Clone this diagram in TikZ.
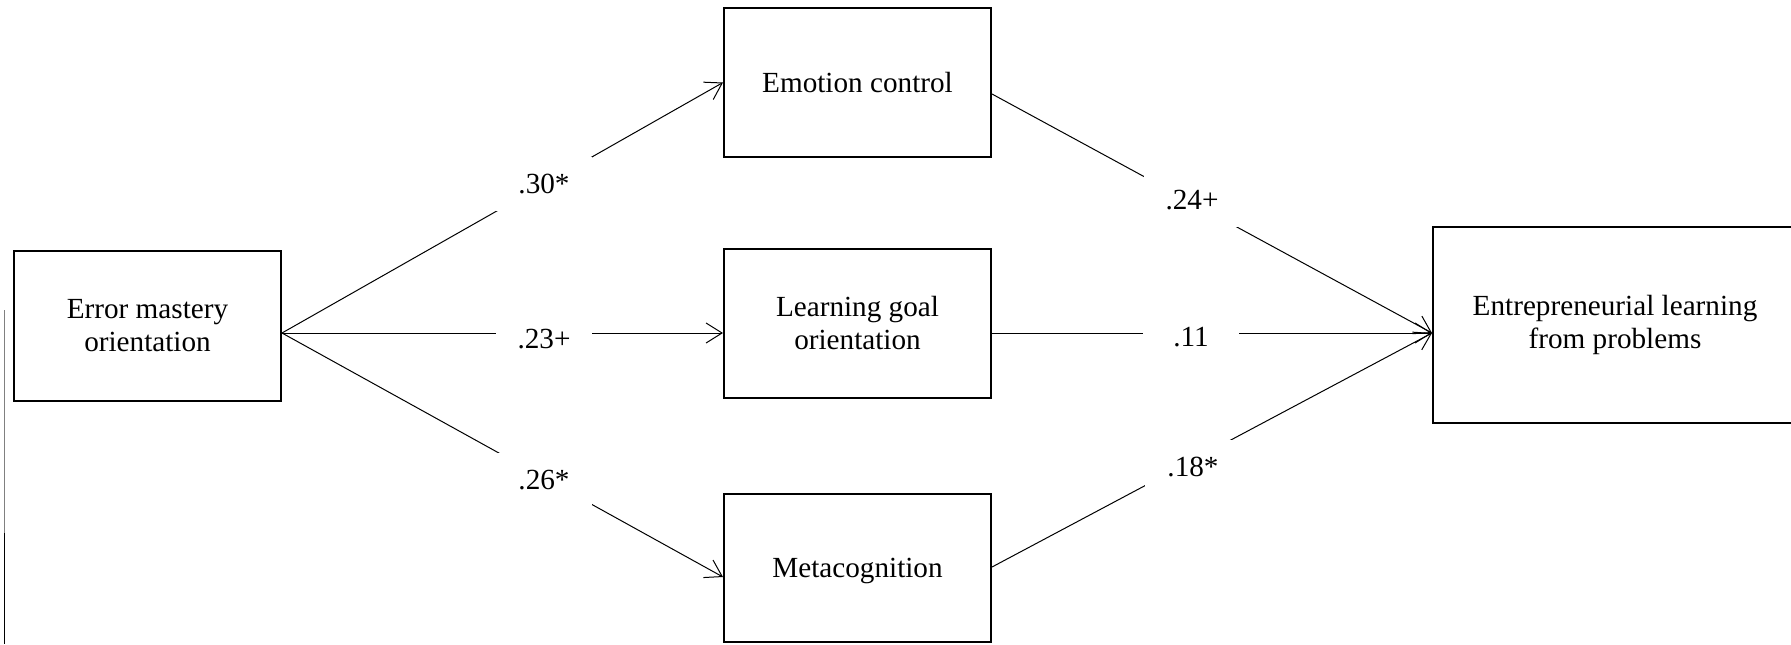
\documentclass[tikz,border=0pt]{standalone}
\usepackage{fontspec}
\setmainfont{Liberation Serif}
\usetikzlibrary{arrows.meta}
\begin{document}
\begin{tikzpicture}[x=0.5pt,y=-0.5pt,
  box/.style={draw, line width=1pt, align=center, inner sep=0pt, font=\fontsize{14.6}{16.5}\selectfont},
  conn/.style={line width=0.5pt, -{Straight Barb[length=8pt,width=10pt]}},
  lab/.style={fill=white, inner sep=0pt, minimum width=48pt, minimum height=27pt, font=\fontsize{14.6}{16.5}\selectfont}]
\useasboundingbox (0,0) rectangle (1791,644);
% boxes
\node[box, minimum width=133.5pt, minimum height=75pt] (emo) at (147.5,326) {Error mastery\\orientation};
\node[box, minimum width=133.5pt, minimum height=74.5pt] (ec) at (857.5,82.5) {Emotion control};
\node[box, minimum width=133.5pt, minimum height=74.5pt] (lg) at (857.5,323.5) {Learning goal\\orientation};
\node[box, minimum width=133.5pt, minimum height=74pt, text depth=0pt] (mc) at (857.5,568) {Metacognition};
\node[box, minimum width=182pt, minimum height=98pt] (el) at (1615,325) {Entrepreneurial learning\\from problems};
% connectors
\draw[conn] ([yshift=-3.5pt]emo.east) -- (ec.west);
\draw[conn] ([yshift=-3.5pt]emo.east) -- ([yshift=-4.75pt]lg.west);
\draw[conn] ([yshift=-3.5pt]emo.east) -- ([yshift=-4.5pt]mc.west);
\draw[conn] ([yshift=-5.75pt]ec.east) -- ([yshift=-4pt]el.west);
\draw[conn] ([yshift=-4.75pt]lg.east) -- ([yshift=-4pt]el.west);
\draw[conn] ([yshift=0.5pt]mc.east) -- ([yshift=-4pt]el.west);
% labels
\node[lab] (l1) at (544,184) {.30*};
\node[lab] (l2) at (544,339) {.23+};
\node[lab] (l3) at (544,480) {.26*};
\node[lab] (l4) at (1192,200) {.24+};
\node[lab] (l5) at (1191,337.5) {.11};
\node[lab] (l6) at (1193,467) {.18*};
% left edge line
\draw[gray, line width=0.5pt] (4,310) -- (4,533);
\draw[line width=0.5pt] (4,533) -- (4,644);
\end{tikzpicture}
\end{document}
